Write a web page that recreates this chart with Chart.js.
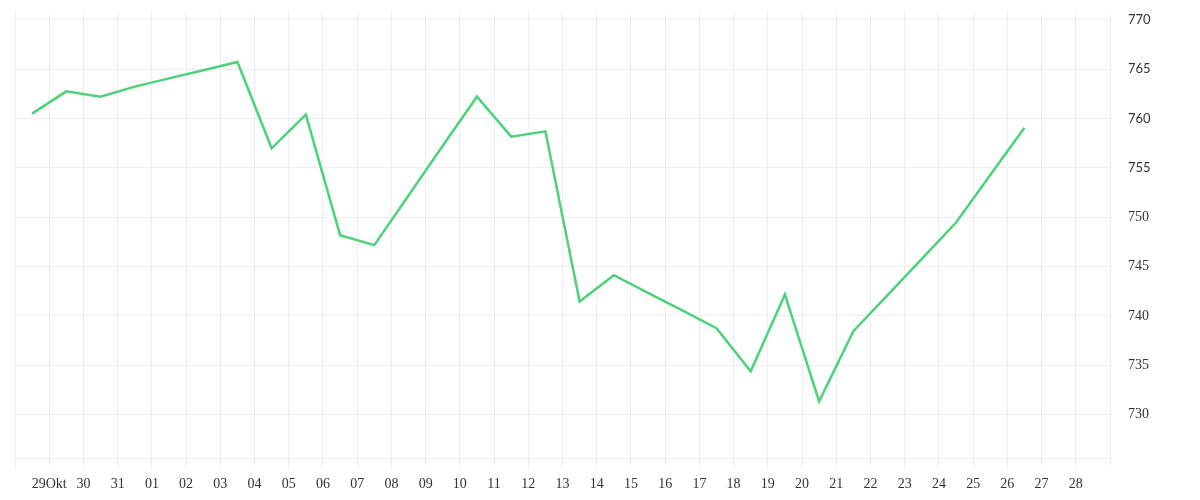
<!DOCTYPE html>
<html>
<head>
<meta charset="utf-8">
<script src="https://cdn.jsdelivr.net/npm/chart.js@4"></script>
<style>
    html, body { margin: 0; padding: 0; background: #fff; }
    #wrap { width: 1200px; height: 500px; }
</style>
</head>
<body>
<div id="wrap"><canvas id="chart"></canvas></div>
<script>
// tick labels on the time axis, one per day
const dayLabels = [
    "29Okt", "30", "31", "01", "02", "03", "04", "05", "06", "07", "08",
    "09", "10", "11", "12", "13", "14", "15", "16", "17", "18", "19",
    "20", "21", "22", "23", "24", "25", "26", "27", "28"
];

// closing values, one per day (sit half a day before each tick)
const prices = [
    760.5, 762.76, 762.22, 763.24, 764.07, 764.9, 765.73, 756.99, 760.4, 748.18,
    747.17, 752.2, 757.25, 762.22, 758.17, 758.71, 741.46, 744.13, 742.33, 740.55,
    738.76, 734.38, 742.17, 731.34, 738.46, 742.11, 745.77, 749.46, 754.29, 759.08
];

const gridColor = "#eeeeee";
const textColor = "#333333";

const points = prices.map((v, i) => ({ x: i - 0.5, y: v }));

const ctx = document.getElementById("chart").getContext("2d");

let myChart = new Chart(ctx, {
    type: "line",
    data: {
        datasets: [{
            label: "price",
            data: points,
            borderColor: "#4cd27b",
            borderWidth: 2.5,
            pointRadius: 0,
            tension: 0,
            fill: false,
        }, ],
    },
    options: {
        responsive: true,
        maintainAspectRatio: false,
        animation: false,
        layout: {
            padding: { left: 15, top: 12, right: 0, bottom: 0 },
        },
        plugins: {
            legend: { display: false },
            tooltip: { enabled: false },
        },
        scales: {
            x: {
                type: "linear",
                min: -1,
                max: 31,
                grid: {
                    color: gridColor,
                    tickLength: 10,
                },
                border: { color: gridColor },
                ticks: {
                    stepSize: 1,
                    autoSkip: false,
                    maxRotation: 0,
                    padding: 8,
                    color: textColor,
                    font: { family: "'Liberation Serif'", size: 14 },
                    callback: (v) => dayLabels[v] ?? "",
                },
                afterFit: (scale) => { scale.height = 42; },
            },
            y: {
                position: "right",
                min: 725.6,
                max: 770.8,
                grid: {
                    color: gridColor,
                    drawTicks: false,
                },
                border: { color: gridColor },
                ticks: {
                    stepSize: 5,
                    includeBounds: false,
                    padding: 18,
                    color: textColor,
                    // upper labels come out in a sans face, lower ones in a serif face
                    font: (c) => (c.tick && c.tick.value >= 755)
                        ? { family: "Lato", size: 13 }
                        : { family: "'Liberation Serif'", size: 14 },
                },
                afterFit: (scale) => {
                    scale.width = 90;
                    scale.paddingTop = 0;
                    scale.paddingBottom = 0;
                },
            },
        },
    },
});
</script>
</body>
</html>
